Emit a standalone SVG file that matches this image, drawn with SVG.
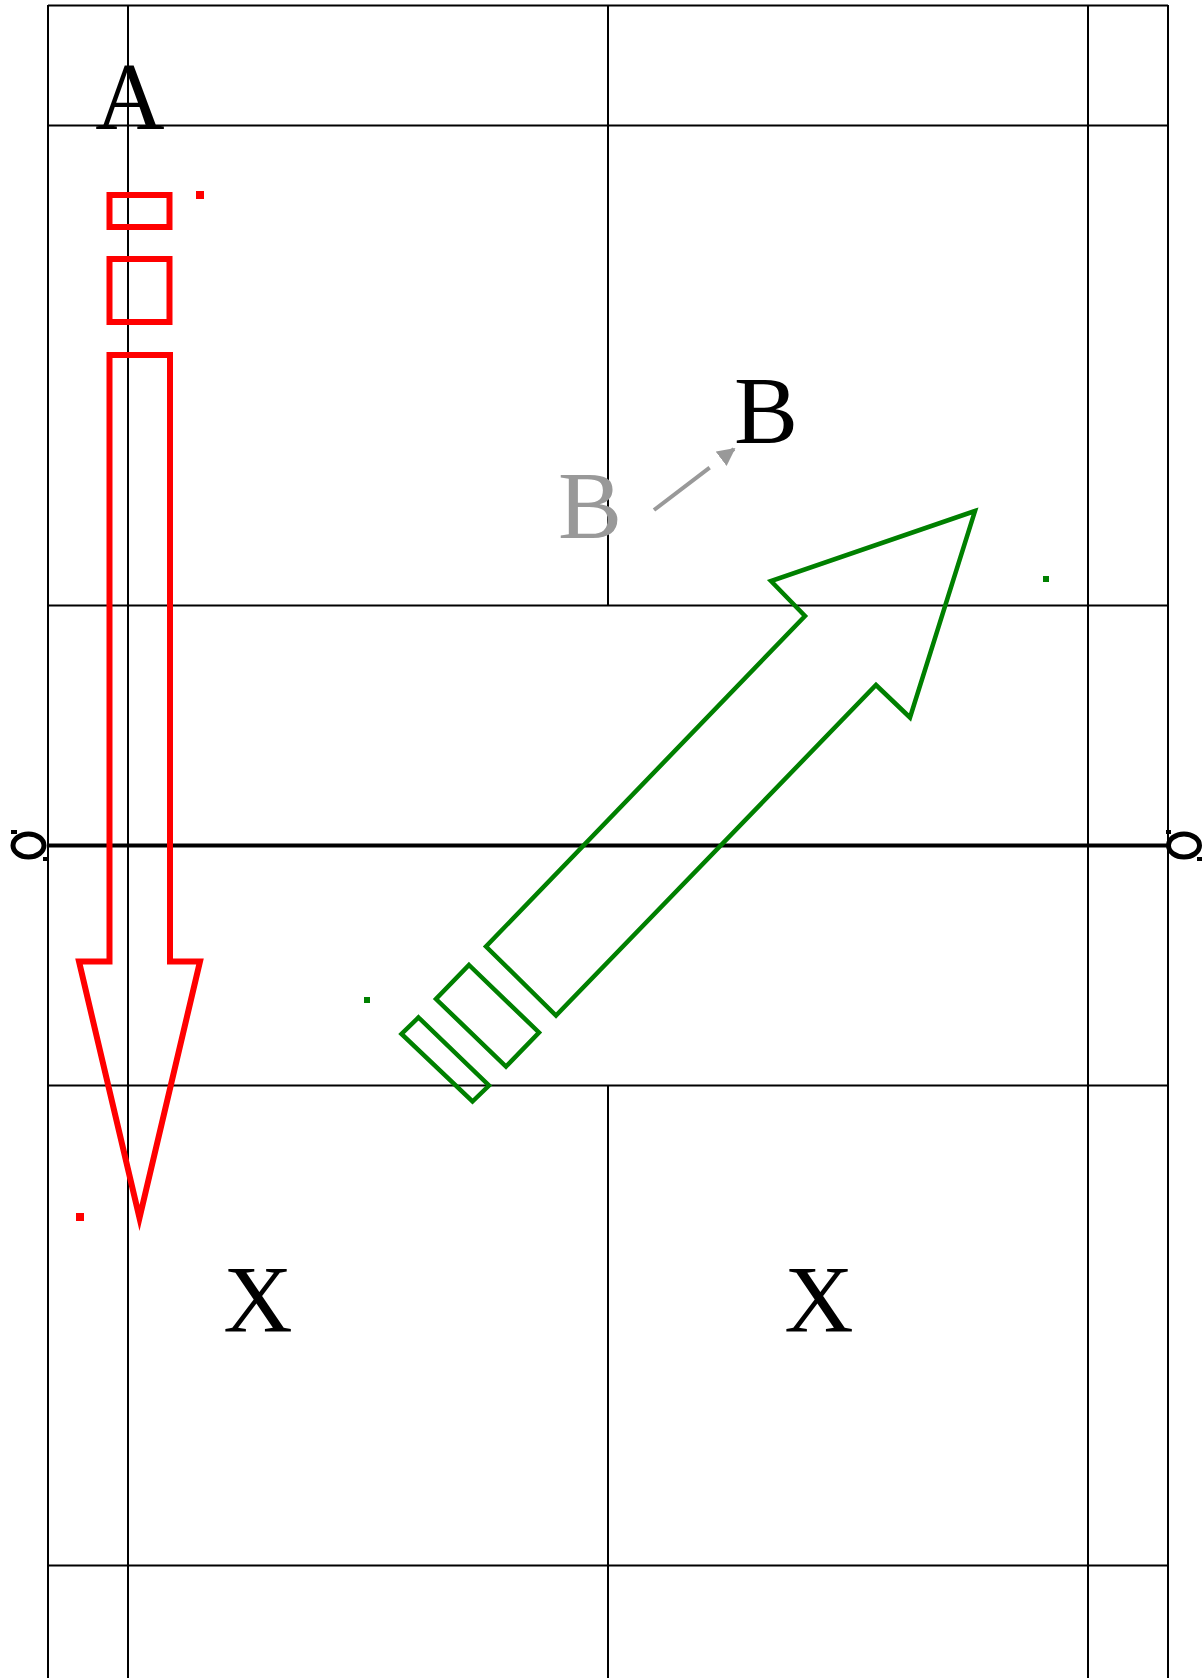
<svg xmlns="http://www.w3.org/2000/svg" width="1203" height="1678" viewBox="0 0 1203 1678">
<style>
.grid{stroke:#000;stroke-width:2;fill:none}
.lbl{font-family:"Liberation Serif","Times New Roman",serif;font-size:96px;text-anchor:middle}
.red{fill:none;stroke:#ff0000;stroke-width:6;stroke-miterlimit:10}
.green{fill:none;stroke:#008000;stroke-width:4.5;stroke-miterlimit:10}
</style>
<defs>
<marker id="gh" viewBox="0 0 10 10" refX="9" refY="5" markerWidth="4.5" markerHeight="4.5" orient="auto" markerUnits="strokeWidth">
<path d="M0,0 L10,5 L0,10 z" fill="#999"/>
</marker>
</defs>
<rect width="1203" height="1678" fill="#fff"/>
<g id="grid" class="grid">
<line x1="48" y1="5.5" x2="1168" y2="5.5"/>
<line x1="48" y1="125.5" x2="1168" y2="125.5"/>
<line x1="48" y1="605.5" x2="1168" y2="605.5"/>
<line x1="48" y1="1085.5" x2="1168" y2="1085.5"/>
<line x1="48" y1="1565.5" x2="1168" y2="1565.5"/>
<line x1="48" y1="5" x2="48" y2="1678"/>
<line x1="128" y1="5" x2="128" y2="1678"/>
<line x1="1088" y1="5" x2="1088" y2="1678"/>
<line x1="1168" y1="5" x2="1168" y2="1678"/>
<line x1="608" y1="5" x2="608" y2="605"/>
<line x1="608" y1="1085" x2="608" y2="1678"/>
</g>
<g id="axis">
<line x1="48" y1="845.5" x2="1168" y2="845.5" stroke="#000" stroke-width="4"/>
<ellipse cx="28.5" cy="845.5" rx="15.5" ry="11.5" fill="none" stroke="#000" stroke-width="5"/>
<rect x="11" y="830" width="6" height="4" fill="#000"/>
<rect x="43" y="857" width="5" height="4" fill="#000"/>
<ellipse cx="1184" cy="845.5" rx="15.5" ry="11.5" fill="none" stroke="#000" stroke-width="5"/>
<rect x="1166" y="830" width="5" height="4" fill="#000"/>
<rect x="1197" y="857" width="5" height="4" fill="#000"/>
</g>
<g id="label-A"><text class="lbl" x="130" y="129">A</text></g>
<g id="red-arrow">
<rect class="red" x="109.5" y="195" width="60" height="32"/>
<rect class="red" x="109.5" y="259" width="60" height="63"/>
<polygon class="red" points="109.5,355 170,355 170,961.5 200,961.5 139.5,1218 79,961.5 109.5,961.5"/>
<rect x="196" y="191" width="8" height="8" fill="#ff0000"/>
<rect x="76" y="1213" width="8" height="8" fill="#ff0000"/>
</g>
<g id="green-arrow">
<polygon class="green" points="975,511 771,581 805,616 486,946.5 556,1015.5 876,685 910,717.5"/>
<polygon class="green" points="469,965 539,1032.5 506,1066.5 436,999"/>
<polygon class="green" points="418.5,1017.5 489,1085.5 472.5,1101.5 401.5,1034"/>
<rect x="1043" y="576" width="6" height="6" fill="#008000"/>
<rect x="364" y="997" width="6" height="6" fill="#008000"/>
</g>
<g id="label-B-gray"><text class="lbl" x="590" y="538" fill="#999">B</text></g>
<g id="label-B"><text class="lbl" x="766" y="443">B</text></g>
<g id="connectors">
<line x1="654" y1="510" x2="734" y2="449" stroke="#999" stroke-width="4" stroke-dasharray="70 20" marker-end="url(#gh)"/>
</g>
<g id="label-X1"><text class="lbl" x="258" y="1332">X</text></g>
<g id="label-X2"><text class="lbl" x="819" y="1332">X</text></g>
</svg>
